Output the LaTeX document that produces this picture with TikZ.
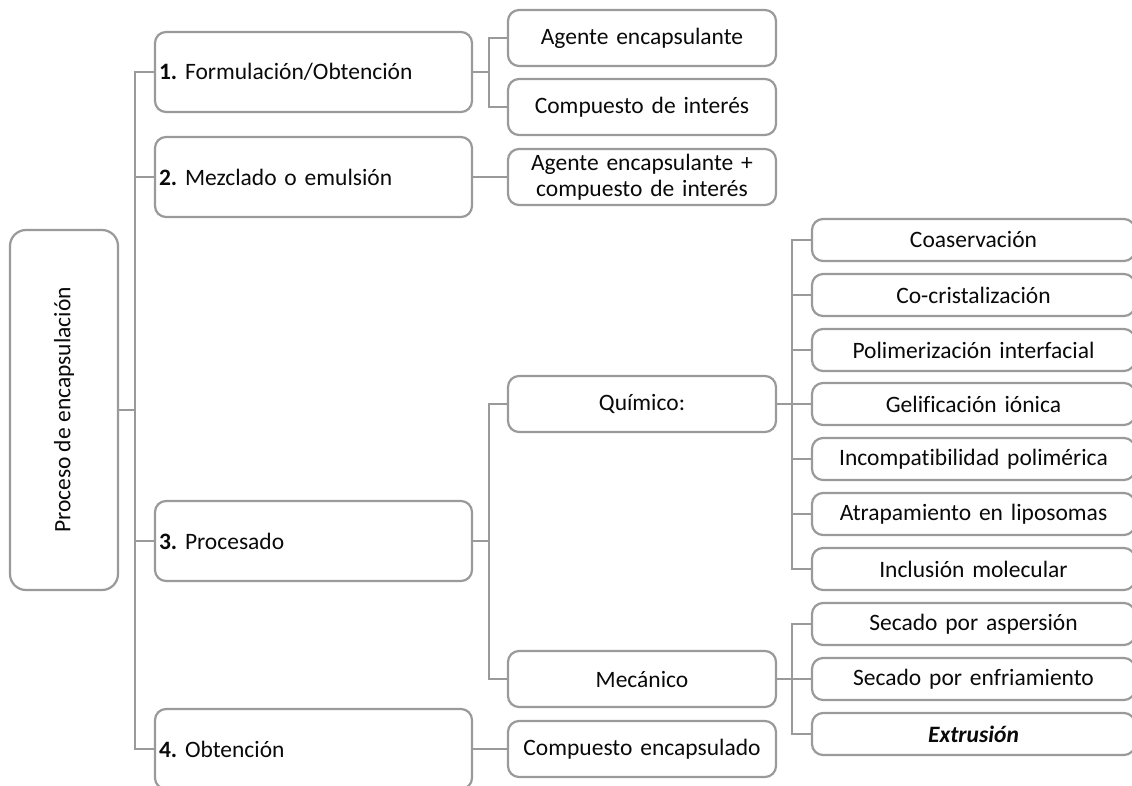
\documentclass[tikz,border=0pt]{standalone}
\usepackage{fontspec}
\setmainfont{Carlito}[Ligatures=CommonOff]
\frenchspacing
\definecolor{ln}{HTML}{9A9A9A}
\definecolor{tx}{HTML}{0A0A0A}
\begin{document}
\begin{tikzpicture}[x=1pt,y=-1pt,
  every node/.style={font=\fontsize{23.5}{28}\selectfont, text=tx},
  box/.style={draw=ln, line width=2.2pt, rounded corners=11pt, fill=white, inner sep=0pt},
  lone/.style={box, minimum width=317pt, minimum height=80pt, text width=309pt, align=left},
  ltwo/.style={box, minimum width=268pt, minimum height=56pt, text width=268pt, align=center},
  lthree/.style={box, minimum width=323pt, minimum height=42pt, text width=323pt, align=center},
  conn/.style={draw=ln, line width=2.2pt}]
\fill[white] (0,0) rectangle (1132,786);
\clip (0,0) rectangle (1132,786);
% root
\node[box, rounded corners=16pt, minimum width=108pt, minimum height=360pt] (root) at (64,410) {\rotatebox{90}{Proceso de encapsulación}};
% level 1
\node[lone] (b1) at (313.5,72) {\textbf{1.} Formulación/Obtención};
\node[lone] (b2) at (313.5,177) {\textbf{2.} Mezclado o emulsión};
\node[lone] (b3) at (313.5,541) {\textbf{3.} Procesado};
\node[lone] (b4) at (313.5,749) {\textbf{4.} Obtención};
% level 2
\node[ltwo] (a1) at (642,38) {Agente encapsulante};
\node[ltwo] (a2) at (642,107) {Compuesto de interés};
\node[ltwo, align=center] (a3) at (642,177) {Agente encapsulante +\\[-2pt]compuesto de interés};
\node[ltwo] (q) at (642,404) {Químico:};
\node[ltwo] (m) at (642,679) {Mecánico};
\node[ltwo] (ce) at (642,749) {Compuesto encapsulado};
% level 3
\node[lthree] (c1) at (973.5,240) {Coaservación};
\node[lthree] (c2) at (973.5,295) {Co-cristalización};
\node[lthree] (c3) at (973.5,350) {Polimerización interfacial};
\node[lthree] (c4) at (973.5,404) {Gelificación iónica};
\node[lthree] (c5) at (973.5,459) {Incompatibilidad polimérica};
\node[lthree] (c6) at (973.5,514) {Atrapamiento en liposomas};
\node[lthree] (c7) at (973.5,569) {Inclusión molecular};
\node[lthree] (d1) at (973.5,624) {Secado por aspersión};
\node[lthree] (d2) at (973.5,679) {Secado por enfriamiento};
\node[lthree] (d3) at (973.5,734) {\textbf{\textit{Extrusión}}};
% trunk
\draw[conn] (b1.west) -- ++(-19,0) coordinate (t) -- (t |- b4.west) -- (b4.west);
\draw[conn] (b2.west) -- (b2.west -| t);
\draw[conn] (b3.west) -- (b3.west -| t);
\draw[conn] (root.east) -- (root.east -| t);
% level 1 -> level 2
\draw[conn] (a1.west) -- ++(-18,0) coordinate (k1) |- (a2.west);
\draw[conn] (b1.east) -- (b1.east -| k1);
\draw[conn] (b2.east) -- (a3.west);
\draw[conn] (q.west) -- ++(-18,0) coordinate (k3) |- (m.west);
\draw[conn] (b3.east) -- (b3.east -| k3);
\draw[conn] (b4.east) -- (ce.west);
% level 2 -> level 3
\draw[conn] (c1.west) -- ++(-19,0) coordinate (kq) |- (c7.west);
\foreach \n in {c2,c3,c4,c5,c6} \draw[conn] (\n.west) -- (\n.west -| kq);
\draw[conn] (q.east) -- (q.east -| kq);
\draw[conn] (d1.west) -- ++(-19,0) coordinate (km) |- (d3.west);
\draw[conn] (d2.west) -- (d2.west -| km);
\draw[conn] (m.east) -- (m.east -| km);
\end{tikzpicture}
\end{document}
